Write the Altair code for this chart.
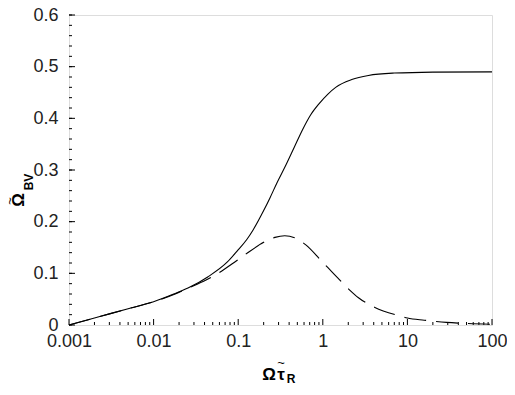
import altair as alt
import pandas as pd

# Solid curve
solid_x = [0.001, 0.002, 0.003, 0.005, 0.01, 0.018, 0.0255, 0.0436, 0.0745, 0.097, 0.127, 0.15,
           0.2, 0.238, 0.284, 0.37, 0.46, 0.58, 0.72, 0.906, 1.15, 1.42, 2.2, 3.46, 7.0, 20, 100]
solid_y = [0.0, 0.0135, 0.0215, 0.0315, 0.045, 0.061, 0.0714, 0.093, 0.122, 0.143, 0.166, 0.184,
           0.2215, 0.2465, 0.2734, 0.311, 0.344, 0.379, 0.407, 0.4286, 0.447, 0.46, 0.475, 0.483,
           0.4876, 0.4895, 0.49]

# Dashed curve
dash_x = [0.001, 0.002, 0.005, 0.01, 0.018, 0.0255, 0.0417, 0.057, 0.093, 0.1216, 0.208, 0.272,
          0.355, 0.464, 0.63, 0.99, 1.29, 2.02, 2.64, 4.13, 7.7, 10, 15.8, 29, 50, 100]
dash_y = [0.0, 0.0135, 0.0315, 0.045, 0.060, 0.071, 0.087, 0.0994, 0.123, 0.1366, 0.1615, 0.1696,
          0.1727, 0.169, 0.155, 0.122, 0.1025, 0.0696, 0.0528, 0.034, 0.0186, 0.0136, 0.0093,
          0.005, 0.003, 0.0015]

x_labels = [0.001, 0.01, 0.1, 1, 10, 100]
y_labels = [0, 0.1, 0.2, 0.3, 0.4, 0.5, 0.6]
x_minor = [m * d for d in [0.001, 0.01, 0.1, 1, 10] for m in range(2, 10)]
y_minor = [round(i * 0.02, 2) for i in range(31)]

W, H = 423, 310
FONT = "Liberation Sans"

xscale = alt.Scale(type="log", domain=[0.001, 100], nice=False)
yscale = alt.Scale(domain=[0, 0.6], nice=False, zero=False)
xaxis = alt.Axis(values=x_labels, format="~g", tickSize=0, labelPadding=7, labelFontSize=18,
                 labelFont=FONT, labelColor="#222", grid=False, domain=False, title=None,
                 labelFlush=False, labelOverlap=False)
yaxis = alt.Axis(values=y_labels, format="~g", tickSize=0, labelPadding=11, labelFontSize=18,
                 labelFont=FONT, labelColor="#222", grid=False, domain=False, title=None,
                 labelFlush=False, labelOverlap=False)

df_s = pd.DataFrame({"x": solid_x, "y": solid_y})
df_d = pd.DataFrame({"x": dash_x, "y": dash_y})

solid = alt.Chart(df_s).mark_line(color="black", strokeWidth=1.1, interpolate="monotone").encode(
    x=alt.X("x:Q", scale=xscale, axis=xaxis),
    y=alt.Y("y:Q", scale=yscale, axis=yaxis),
)
dashed = alt.Chart(df_d).mark_line(color="black", strokeWidth=1.1, interpolate="monotone",
                                   strokeDash=[22, 10]).encode(
    x=alt.X("x:Q", scale=xscale),
    y=alt.Y("y:Q", scale=yscale),
)

xmaj = alt.Chart(pd.DataFrame({"x": x_labels})).mark_rule(color="black", strokeWidth=1).encode(
    x=alt.X("x:Q", scale=xscale), y=alt.value(H), y2=alt.value(H - 6))
xmin = alt.Chart(pd.DataFrame({"x": x_minor})).mark_rule(color="black", strokeWidth=1).encode(
    x=alt.X("x:Q", scale=xscale), y=alt.value(H), y2=alt.value(H - 3))
ymaj = alt.Chart(pd.DataFrame({"y": y_labels})).mark_rule(color="black", strokeWidth=1).encode(
    y=alt.Y("y:Q", scale=yscale), x=alt.value(0), x2=alt.value(6))
ymin = alt.Chart(pd.DataFrame({"y": y_minor})).mark_rule(color="black", strokeWidth=1).encode(
    y=alt.Y("y:Q", scale=yscale), x=alt.value(0), x2=alt.value(3))

# Axis titles (composed: symbol, tilde, subscript)
def txt(s, x, y, size, angle=0, bold=True, baseline="alphabetic"):
    return alt.Chart(pd.DataFrame({"t": [s]})).mark_text(
        font=FONT, fontSize=size, fontWeight="bold" if bold else "normal", color="black",
        angle=angle, align="center", baseline=baseline).encode(
        text="t:N", x=alt.value(x), y=alt.value(y))

titles = [
    txt("Ω", 200, 365, 17),
    txt("τ", 212, 365, 17),
    txt("~", 212, 352, 13, bold=False),
    txt("R", 222, 368, 12),
    txt("Ω", -50, 185, 17, angle=270, baseline="middle"),
    txt("~", -59, 186, 13, angle=270, bold=False, baseline="middle"),
    txt("BV", -40, 167, 12, angle=270, baseline="middle"),
]

chart = alt.layer(xmin, xmaj, ymin, ymaj, solid, dashed, *titles).properties(
    width=W, height=H,
    autosize=alt.AutoSizeParams(type="none"),
    padding={"left": 61, "top": 7, "right": 15, "bottom": 59},
).configure_view(stroke="black", strokeWidth=1.2).configure(background="white")

chart.save("out.html", embed_options={"renderer": "svg", "actions": False})
